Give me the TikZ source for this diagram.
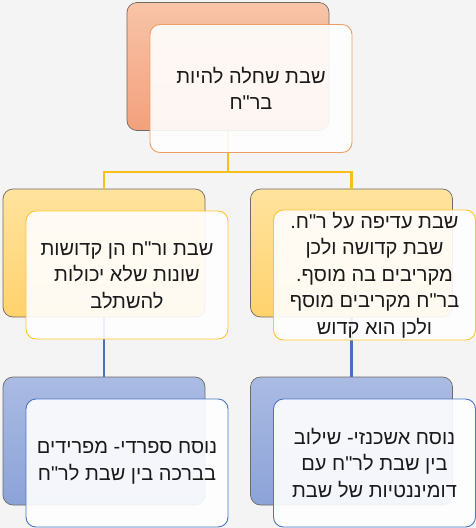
\documentclass[tikz,border=0pt]{standalone}
\usepackage{fontspec}
\setmainfont{Liberation Sans}
\newfontfamily\hebfont[Script=Hebrew]{Liberation Sans}
\TeXXeTstate=1
\usetikzlibrary{positioning}

\definecolor{bgcol}{HTML}{F4F4F4}
\definecolor{edgegray}{HTML}{6E6A66}
\definecolor{txt}{HTML}{1A1A1A}
\definecolor{orTop}{HTML}{F8C4A8}
\definecolor{orBot}{HTML}{F3A07C}
\definecolor{orLine}{HTML}{EE9E62}
\definecolor{ylTop}{HTML}{FFE39E}
\definecolor{ylBot}{HTML}{FFD26C}
\definecolor{ylLine}{HTML}{FFC42E}
\definecolor{ylLink}{HTML}{F8BE1E}
\definecolor{blTop}{HTML}{AABBE3}
\definecolor{blBot}{HTML}{8CA3D8}
\definecolor{blLine}{HTML}{4A75C2}
\definecolor{blLink}{HTML}{4670C0}

\tikzset{
  backbox/.style={draw=edgegray, line width=0.7pt, rounded corners=10pt,
    minimum width=202pt, minimum height=128pt, inner sep=0pt},
  orback/.style={backbox, top color=orTop, bottom color=orBot},
  ylback/.style={backbox, top color=ylTop, bottom color=ylBot},
  blback/.style={backbox, top color=blTop, bottom color=blBot},
  frontbox/.style={rounded corners=10pt, fill=white, fill opacity=0.9,
    text opacity=1, line width=0.9pt, minimum width=202pt, minimum height=128pt,
    inner sep=2pt, align=center, text=txt,
    font=\hebfont\fontsize{20}{26.5}\selectfont},
  orfront/.style={frontbox, draw=orLine},
  ylfront/.style={frontbox, draw=ylLine},
  blfront/.style={frontbox, draw=blLine},
  ylink/.style={draw=ylLink, line width=2.2pt},
  blink/.style={draw=blLink, line width=2.2pt}
}

\begin{document}
\begin{tikzpicture}[x=1pt, y=-1pt]

% background
      \fill[bgcol] (0,0) rectangle (476,528);

% back boxes
      \node[orback] (topB) at (228,66.5) {};
      \node[ylback] (midLB) at (104,253) {};
      \node[ylback] (midRB) at (351.5,253) {};
      \node[blback] (botLB) at (104,441) {};
      \node[blback] (botRB) at (351.5,441) {};

% links
      \draw[ylink] (topB.south) -- ++(0,41) -| (midLB.north);
      \draw[ylink] (topB.south) -- ++(0,41) -| (midRB.north);
      \draw[blink] (midLB.south) -- (botLB.north);
      \draw[blink] (midRB.south) -- (botRB.north);

% front boxes
      \node[orfront] (topF) at ([shift={(23,22)}]topB.center)
        {\beginR שבת שחלה להיות\endR\\ \beginR בר"ח\endR};
      \node[ylfront] (midLF) at ([shift={(23,22)}]midLB.center)
        {\beginR שבת ור"ח הן קדושות\endR\\ \beginR שונות שלא יכולות\endR\\ \beginR להשתלב\endR};
      \node[ylfront] (midRF) at ([shift={(23,22)}]midRB.center)
        {\beginR שבת עדיפה על ר"ח.\endR\\ \beginR שבת קדושה ולכן\endR\\ \beginR מקריבים בה מוסף.\endR\\ \beginR בר"ח מקריבים מוסף\endR\\ \beginR ולכן הוא קדוש\endR};
      \node[blfront] (botLF) at ([shift={(23,22)}]botLB.center)
        {\beginR נוסח ספרדי- מפרידים\endR\\ \beginR בברכה בין שבת לר"ח\endR};
      \node[blfront] (botRF) at ([shift={(23,22)}]botRB.center)
        {\beginR נוסח אשכנזי- שילוב\endR\\ \beginR בין שבת לר"ח עם\endR\\ \beginR דומיננטיות של שבת\endR};

    \end{tikzpicture}
\end{document}
